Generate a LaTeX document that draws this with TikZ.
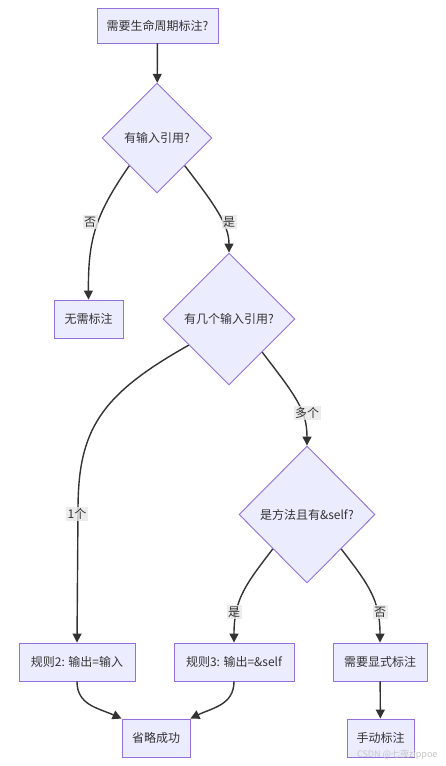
\documentclass[tikz,border=0pt]{standalone}
\usepackage{fontspec}
\setmainfont{Noto Sans CJK SC}
\usetikzlibrary{shapes.geometric,arrows.meta}
\definecolor{nfill}{HTML}{ECECFF}
\definecolor{nstroke}{HTML}{9370DB}
\definecolor{edge}{HTML}{333333}
\definecolor{lblbg}{HTML}{E8E8E8}
\definecolor{txt}{HTML}{333333}
\tikzset{
  box/.style={draw=nstroke, fill=nfill, line width=0.9pt, inner sep=0pt, text=txt, font=\fontsize{12}{14}\selectfont},
  dia/.style={diamond, aspect=1, draw=nstroke, fill=nfill, line width=0.9pt, inner sep=0pt, text=txt, font=\fontsize{12}{14}\selectfont},
  conn/.style={draw=edge, line width=1.4pt, -{Triangle[length=9pt,width=9pt]}},
  lbl/.style={fill=lblbg, fill opacity=0.8, text opacity=1, text=txt, inner sep=1.5pt, font=\fontsize{12}{14}\selectfont}
}
\begin{document}
\begin{tikzpicture}[x=1pt,y=-1pt]
\useasboundingbox (0,0) rectangle (445,766);
\fill[white] (0,0) rectangle (445,766);
% nodes
\node[box, minimum width=121pt, minimum height=35pt] (start) at (157.5,25.5) {需要生命周期标注?};
\node[dia, minimum width=110pt, minimum height=110pt] (d1) at (157,138) {有输入引用?};
\node[box, minimum width=69pt, minimum height=38pt] (none) at (88.5,319) {无需标注};
\node[dia, minimum width=132pt, minimum height=132pt] (d2) at (229,319) {有几个输入引用?};
\node[dia, minimum width=136pt, minimum height=137pt] (d3) at (307,514.5) {是方法且有\&self?};
\node[box, minimum width=116pt, minimum height=38pt] (r2) at (77,662) {规则2: 输出=输入};
\node[box, minimum width=120pt, minimum height=38pt] (r3) at (234,662) {规则3: 输出=\&self};
\node[box, minimum width=94pt, minimum height=38pt] (expl) at (380,662) {需要显式标注};
\node[box, minimum width=68pt, minimum height=38pt] (ok) at (156,738) {省略成功};
\node[box, minimum width=67pt, minimum height=38pt] (manual) at (380.5,738) {手动标注};
% connectors
\draw[conn] (start) -- (d1);
\draw[conn] (d1.south west) .. controls (95,215) and (88,240) .. (none.north);
\draw[conn] (d1.south east) .. controls (215,205) and (229,225) .. (d2.north);
\draw[conn] (d2.213) .. controls (100,395) and (78,430) .. (78,510) -- (r2.north);
\draw[conn] (d2.south east) .. controls (295,395) and (307,410) .. (d3.north);
\draw[conn] (d3.south west) .. controls (245,585) and (234,600) .. (r3.north);
\draw[conn] (d3.south east) .. controls (369,585) and (380,600) .. (expl.north);
\draw[conn] (r2.south) .. controls (77,705) and (98,708) .. (ok.north west);
\draw[conn] (r3.south) .. controls (234,705) and (212,708) .. (ok.north east);
\draw[conn] (expl) -- (manual);
% labels
\node[lbl] (l1) at (90,222) {否};
\node[lbl] (l2) at (229,222) {是};
\node[lbl] (l3) at (77,514) {1个};
\node[lbl] (l4) at (307,413) {多个};
\node[lbl] (l5) at (234,612) {是};
\node[lbl] (l6) at (380,612) {否};
% watermark
\node[text=gray!45, font=\fontsize{9}{10}\selectfont, anchor=east] (wm) at (441,755) {CSDN @七夜zippoe};
\end{tikzpicture}
\end{document}
